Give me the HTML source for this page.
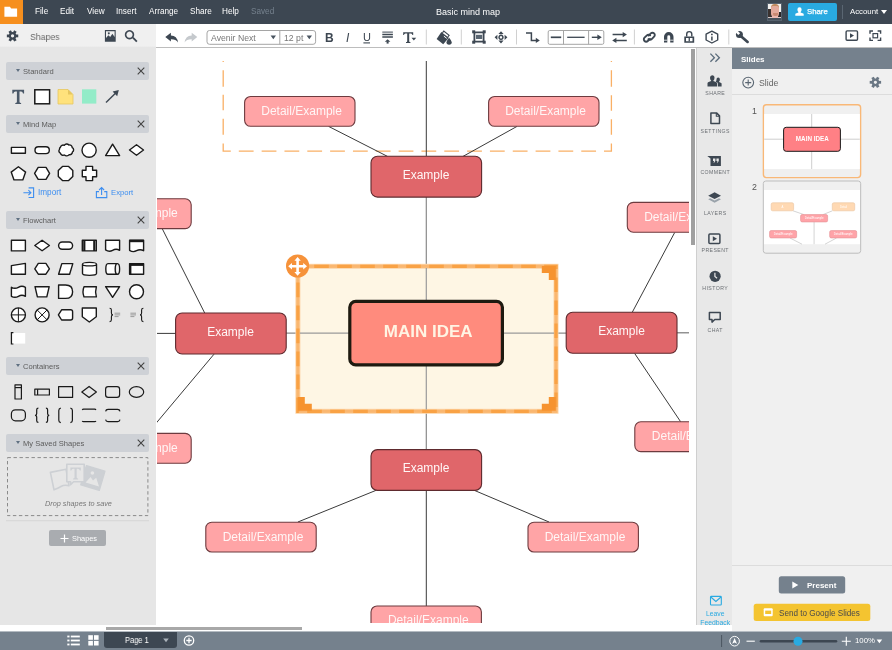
<!DOCTYPE html>
<html><head><meta charset="utf-8"><title>Basic mind map</title>
<style>
*{box-sizing:border-box;margin:0;padding:0}
html,body{width:892px;height:650px;overflow:hidden;background:#fff;font-family:"Liberation Sans",sans-serif;color:#3d4752}
.abs{position:absolute}
#top{left:0;top:0;width:892px;height:24px;background:#3d4752}
#logo{left:0;top:0;width:23px;height:24px;background:#f68f1e}
.menu{position:absolute;top:8.2px;line-height:1;font-size:8.2px;color:#fff;white-space:nowrap}
#tb{left:156px;top:24px;width:736px;height:24px;background:#fff;border-bottom:1px solid #bdbdbd}
#shbar{left:0;top:24px;width:156px;height:24px;background:linear-gradient(#f0f0f0 0,#f0f0f0 22px,#e6e6e6 23.5px)}
#left{left:0;top:48px;width:156px;height:577px;background:#e6e6e6}
#canvas{left:156px;top:48px;width:533px;height:583px;background:#fff;overflow:hidden}
#vscroll{left:689px;top:48px;width:8px;height:583px;background:#fff}
#dock{left:696px;top:48px;width:36px;height:577px;background:#e8e8e8;border-left:1px solid #cfcfcf}
#slides{left:732px;top:48px;width:160px;height:583px;background:#f0f0f0}
#bottom{left:0;top:631px;width:892px;height:19px;background:#75818d;border-top:1px solid #b4bbc2}
.ph{position:absolute;left:6px;width:143px;height:18px;background:#ced1d6;border-radius:2px;font-size:8px;line-height:19px;color:#5c5c5c;padding-left:17px}
.ph span{display:inline-block;transform:scaleX(.945);transform-origin:0 50%}
.ph:before{content:"";position:absolute;left:9.8px;top:7.4px;border-left:2.5px solid transparent;border-right:2.5px solid transparent;border-top:3.8px solid #5f7082}
.ph svg{position:absolute;right:4px;top:5px}
.dk{position:absolute;left:697px;width:35px;text-align:center;font-size:5.2px;letter-spacing:.42px;color:#6b6f74;padding-left:1.5px}
.t{position:absolute;white-space:nowrap;line-height:1}
.t,.menu,.ph,.dk,svg{will-change:transform}
</style></head><body>
<div id="top" class="abs"></div>
<div id="logo" class="abs"></div>
<div id="shbar" class="abs"></div>
<div id="tb" class="abs"></div>
<div id="left" class="abs"></div>
<div id="canvas" class="abs"></div>
<div id="vscroll" class="abs"></div>
<div id="dock" class="abs"></div>
<div id="slides" class="abs"></div>
<div id="bottom" class="abs"></div>
<svg class="abs" style="left:0;top:0" width="24" height="24" viewBox="0 0 24 24"><path d="M4.4 6.8h5.5l1.3 1.8h5.9v8.2H4.4z" fill="#fff"/></svg>
<div class="menu" style="left:35.1px">File</div>
<div class="menu" style="left:59.9px">Edit</div>
<div class="menu" style="left:86.5px">View</div>
<div class="menu" style="left:115.7px">Insert</div>
<div class="menu" style="left:148.7px">Arrange</div>
<div class="menu" style="left:189.5px">Share</div>
<div class="menu" style="left:221.8px">Help</div>
<div class="menu" style="left:251.3px;color:#75818d">Saved</div>
<div class="menu" style="left:436.4px;top:7.6px;font-size:9px">Basic mind map</div>
<!-- avatar -->
<div class="abs" style="left:767px;top:3.2px;width:14.8px;height:17.7px;border:1px solid #56626e;background:#46515c;overflow:hidden">
<div class="abs" style="left:0;top:0;width:13px;height:14.2px;background:#f2f0ee"></div>
<div class="abs" style="left:0;top:5px;width:3.5px;height:8px;background:#3a3230"></div>
<div class="abs" style="left:10px;top:8px;width:3px;height:5px;background:#2a2628"></div>
<div class="abs" style="left:0;top:12.5px;width:13px;height:1.7px;background:#d8c8c8"></div>
<div class="abs" style="left:3.4px;top:.200px;width:7.6px;height:4px;border-radius:3.5px 3.5px 0 0;background:#c08a5e"></div>
<div class="abs" style="left:3.4px;top:1.6px;width:7.4px;height:11px;border-radius:2px 2px 3.5px 3.5px;background:#e3aa9c"></div>
<div class="abs" style="left:4.8px;top:9.3px;width:4.8px;height:2.5px;border-radius:0 0 2px 2px;background:#c98a72"></div>
<div class="abs" style="left:3.5px;top:12px;width:6.5px;height:2.2px;background:#eab8b0"></div>
</div>
<div class="abs" style="left:788px;top:3px;width:49px;height:17.5px;background:#29aae1;border-radius:2px"></div>
<svg class="abs" style="left:795px;top:7px" width="9" height="9" viewBox="0 0 9 9"><path d="M4.5.3q2.1 0 2.1 2.3 0 1.7-1 2.5v.5l2.6 1q.5.2.5.8v1.3H.3V7.4q0-.6.5-.8l2.6-1v-.5q-1-.8-1-2.5Q2.4.3 4.5.3z" fill="#fff"/></svg>
<div class="menu" style="left:806.6px;top:8.3px;font-size:7.8px;-webkit-text-stroke:.25px #fff">Share</div>
<div class="abs" style="left:842.3px;top:4.5px;width:1px;height:14px;background:#5a6672"></div>
<div class="menu" style="left:850px;font-size:7.8px;top:8.4px">Account</div>
<div class="abs" style="left:881px;top:9.5px;border-left:3.5px solid transparent;border-right:3.5px solid transparent;border-top:4.5px solid #fff"></div>
<svg class="abs" style="left:0;top:24px" width="892" height="24" viewBox="0 24 892 24">
<g fill="#3d4752">
<!-- gear -->
<g id="gear" transform="translate(12.55 35.9)"><path d="M0-3.9a3.9 3.9 0 1 0 .01 0zM0-1.6a1.6 1.6 0 1 1-.01 0z" fill-rule="evenodd"/><g id="gt"><rect x="-1.4" y="-5.7" width="2.8" height="2.6" transform="rotate(30)"/><rect x="-1.4" y="-5.7" width="2.8" height="2.6" transform="rotate(90)"/><rect x="-1.4" y="-5.7" width="2.8" height="2.6" transform="rotate(150)"/><rect x="-1.4" y="-5.7" width="2.8" height="2.6" transform="rotate(210)"/><rect x="-1.4" y="-5.7" width="2.8" height="2.6" transform="rotate(270)"/><rect x="-1.4" y="-5.7" width="2.8" height="2.6" transform="rotate(330)"/></g></g>
<!-- image icon -->
<path d="M104.9 30.1h10.8v11.6h-10.8zM106 31.2v6.9l2.4-2.8 1.8 1.8 2.2-3.4 2.2 3.2v-5.7zM108.8 32.2a1 1 0 1 0 .01 0z" fill-rule="evenodd"/>
<!-- search -->
<path d="M129.5 30a4.7 4.7 0 1 0 .01 0zM129.5 31.6a3.1 3.1 0 1 1-.01 0z" fill-rule="evenodd"/><path d="M132.3 38.3l1.3-1.3 3.9 3.9-1.3 1.3z"/>
<!-- undo -->
<path d="M165.3 37l5.6-4.2v2.6q6.2.2 7.1 7-2-3.3-7.1-3.2v2.4z"/>
<path d="M197.3 37l-5.6-4.2v2.6q-6.2.2-7.1 7 2-3.3 7.1-3.2v2.4z" fill="#c5c9cd"/>
</g>
<!-- font boxes -->
<rect x="207" y="30.5" width="108.6" height="13.8" rx="2.5" fill="#fff" stroke="#a5a5a5" stroke-width="1"/>
<path d="M279.8 30.5v13.8" stroke="#a5a5a5" stroke-width="1"/>
<path d="M270.6 35.6h5.4l-2.7 3.6zM306.6 35.6h5.4l-2.7 3.6z" fill="#4a5560"/>
<g stroke="#d0d0d0" stroke-width="1"><path d="M426.3 29.5v15M461.3 29.5v15M516.5 29.5v15M634.4 29.5v15M728.8 29.5v15"/></g>
<!-- U underline, align, T caret -->
<g fill="none" stroke="#3d4752">
<path d="M363.4 42.9h6.6" stroke-width="1.1"/>
<path d="M382.3 32.1h10.6" stroke-width="1"/><path d="M382.3 34.5h10.6M382.3 36.9h10.6" stroke-width="1.5"/><path d="M387.6 43.6v-2.4" stroke-width="2"/>
</g>
<path d="M384.8 41.8l2.8-2.5 2.8 2.5z" fill="#3d4752"/>
<path d="M403.2 32.2h10v2.8h-.8q-.1-1.5-1.4-1.5h-1.8v7.7q0 .9 1.2.9v.8h-4.4v-.8q1.2 0 1.2-.9v-7.7h-1.8q-1.3 0-1.4 1.5h-.8z" fill="#3d4752"/>
<path d="M411.5 37.8h4.7l-2.35 2.6z" fill="#3d4752"/>
<!-- fill bucket -->
<g fill="#3d4752">
<g transform="translate(443 37.6) rotate(38)"><path d="M-4.7-3.4h9.4l-.5 8.4h-8.4z"/><path d="M-3.4-3.4v-2.2h6.8v2.2" fill="none" stroke="#3d4752" stroke-width="1.1"/><path d="M-.200-1.7h3.6" stroke="#fff" stroke-width=".9"/></g>
<path d="M449.1 37.8q2.7 3.2 2.7 4.4a2.7 2.5 0 0 1-5.4 0q0-1.2 2.7-4.4z"/>
</g>
<!-- frame icon -->
<g fill="#3d4752"><path d="M473.5 31.5h11v11h-11zM475.3 33.3v7.4h7.4v-7.4z" fill-rule="evenodd"/>
<rect x="472.2" y="30.3" width="3" height="3"/><rect x="482.7" y="30.3" width="3" height="3"/><rect x="472.2" y="40.7" width="3" height="3"/><rect x="482.7" y="40.7" width="3" height="3"/>
<rect x="476" y="34.8" width="6.2" height="4.2" fill="#5a6672"/>
<!-- move icon -->
<path d="M501 31.2l2.6 2.8h-5.2zM501 43.4l2.6-2.8h-5.2zM494.6 37.3l2.8-2.6v5.2zM507.4 37.3l-2.8-2.6v5.2z"/>
<path d="M501 34.6a2.7 2.7 0 1 0 .01 0zM501 36.1a1.2 1.2 0 1 1-.01 0z" fill-rule="evenodd"/>
</g>
<!-- elbow -->
<path d="M526 33h5.4v7.4h5" fill="none" stroke="#3d4752" stroke-width="1.5"/><path d="M539.8 40.4l-4-2.6v5.2z" fill="#3d4752"/>
<!-- line style box -->
<rect x="548.2" y="30.5" width="55.6" height="13.8" rx="1.5" fill="#fff" stroke="#a5a5a5" stroke-width="1"/>
<path d="M563.5 30.5v13.8M588.6 30.5v13.8" stroke="#a5a5a5" stroke-width="1"/>
<path d="M550.8 37.3h10.4" stroke="#3d4752" stroke-width="1.7"/>
<path d="M567.2 37.3h17.4" stroke="#3d4752" stroke-width="1.3"/>
<path d="M591.8 37.3h6.5" stroke="#3d4752" stroke-width="1.4"/><path d="M601.8 37.3l-4.4-2.7v5.4z" fill="#3d4752"/>
<!-- swap -->
<g stroke="#3d4752" stroke-width="1.5" fill="none"><path d="M612.6 34.6h11.6M615.2 40.4h11.6"/></g>
<path d="M626.9 34.6l-4.2-2.7v5.4zM612.2 40.4l4.2-2.7v5.4z" fill="#3d4752"/>
<!-- link -->
<g fill="none" stroke="#3d4752" stroke-width="1.9" stroke-linecap="round">
<path d="M648.6 35.6l2.2-2.2a2.3 2.3 0 0 1 3.3 3.3l-2.4 2.4a2.3 2.3 0 0 1-3.3 0"/>
<path d="M650 38.8l-2.2 2.2a2.3 2.3 0 0 1-3.3-3.3l2.4-2.4a2.3 2.3 0 0 1 3.3 0"/>
</g>
<!-- magnet -->
<path d="M664 42.5v-5.7a4.75 4.75 0 0 1 9.5 0v5.7h-3.3v-5.7a1.45 1.45 0 0 0-2.9 0v5.7z" fill="#3d4752"/><path d="M664 40.2h3.3M670.2 40.2h3.3" stroke="#fff" stroke-width=".8"/>
<!-- lock -->
<path d="M684.3 36.4h9.9v6.4h-9.9zM686 38v3.2h6.5V38z" fill="#3d4752" fill-rule="evenodd"/><path d="M686.7 36.4v-2.2a2.55 2.55 0 0 1 5.1 0v2.2" fill="none" stroke="#3d4752" stroke-width="1.4"/><path d="M689.25 38v3.2" stroke="#3d4752" stroke-width="1.3"/>
<!-- info hex -->
<path d="M711.9 31.2l5.8 3v5.8l-5.8 3-5.8-3v-5.8z" fill="none" stroke="#3d4752" stroke-width="1.4" stroke-linejoin="round"/><path d="M711.9 36.4v4" stroke="#3d4752" stroke-width="1.5"/><circle cx="711.9" cy="34.4" r=".9" fill="#3d4752"/>
<!-- wrench -->
<path d="M741 36.2L747.6 41.9" stroke="#3d4752" stroke-width="2.7" stroke-linecap="round"/>
<circle cx="739.4" cy="34.4" r="3.5" fill="#3d4752"/>
<rect x="-1.3" y="-5" width="2.6" height="5.4" fill="#fff" transform="translate(738.9 33.9) rotate(-45)"/>
<!-- present box -->
<rect x="846.1" y="30.9" width="11.4" height="9.4" rx="1" fill="none" stroke="#3d4752" stroke-width="1.4"/><path d="M850 33.2v4.8l4-2.4z" fill="#3d4752"/>
<!-- fullscreen -->
<g fill="none" stroke="#3d4752" stroke-width="1.4"><path d="M870 33.8v-2.8h3M877.6 31h3v2.8M880.6 37.6v2.8h-3M873 40.4h-3v-2.8"/><rect x="873" y="33.6" width="4.6" height="4.2" stroke-width="1.2"/></g>
</svg>
<div class="t" style="left:30.3px;top:31.7px;font-size:9.8px;color:#6a6a6a;transform:scaleX(.89);transform-origin:0 0">Shapes</div>
<div class="t" style="left:210.6px;top:33.7px;font-size:8.7px;color:#777">Avenir Next</div>
<div class="t" style="left:283.5px;top:33.7px;font-size:8.7px;color:#777">12 pt</div>
<div class="t" style="left:325.4px;top:32.2px;font-size:12px;font-weight:bold;color:#3d4752">B</div>
<div class="t" style="left:346.4px;top:32.2px;font-size:12px;font-style:italic;color:#3d4752">I</div>
<div class="t" style="left:362.6px;top:32.4px;font-size:11px;color:#3d4752">U</div>
<div class="ph" style="top:62px"><span>Standard</span><svg width="8" height="8" viewBox="0 0 8 8"><path d="M.7.7l6.6 6.6M7.3.7L.7 7.3" stroke="#444" stroke-width="1.1"/></svg></div>
<div class="ph" style="top:115.2px"><span>Mind Map</span><svg width="8" height="8" viewBox="0 0 8 8"><path d="M.7.7l6.6 6.6M7.3.7L.7 7.3" stroke="#444" stroke-width="1.1"/></svg></div>
<div class="ph" style="top:211px"><span>Flowchart</span><svg width="8" height="8" viewBox="0 0 8 8"><path d="M.7.7l6.6 6.6M7.3.7L.7 7.3" stroke="#444" stroke-width="1.1"/></svg></div>
<div class="ph" style="top:357.2px"><span>Containers</span><svg width="8" height="8" viewBox="0 0 8 8"><path d="M.7.7l6.6 6.6M7.3.7L.7 7.3" stroke="#444" stroke-width="1.1"/></svg></div>
<div class="ph" style="top:434.2px"><span>My Saved Shapes</span><svg width="8" height="8" viewBox="0 0 8 8"><path d="M.7.7l6.6 6.6M7.3.7L.7 7.3" stroke="#444" stroke-width="1.1"/></svg></div>
<svg class="abs" style="left:0;top:48px" width="156" height="580" viewBox="0 48 156 580">
<!-- standard -->
<path d="M12.3 89.8h11.8v3.6h-1.1q-.3-2-2-2h-1.5v10.3q0 1.2 1.6 1.2v1.1h-5.8v-1.1q1.6 0 1.6-1.2V91.4h-1.5q-1.7 0-2 2h-1.1z" fill="#4a5868"/>
<rect x="34.8" y="89.8" width="14.8" height="14" fill="#fff" stroke="#1a1a1a" stroke-width="1.5"/>
<path d="M58 89.5h10l5 5v9.5h-15z" fill="#ffe27c" stroke="#e6c65f" stroke-width=".8"/><path d="M68 89.5v5h5z" fill="#e6c65f"/>
<rect x="82" y="89.3" width="14.3" height="14.3" fill="#93ecc8"/>
<path d="M106 102.5L116.5 92.2" stroke="#3d4752" stroke-width="1.4" fill="none"/><path d="M118.8 90l-1.6 6.2-4.6-4.6z" fill="#3d4752"/>
<g fill="#fff" stroke="#1a1a1a" stroke-width="1.4" stroke-linejoin="round">
<!-- mind map r1 -->
<rect x="11.4" y="147.4" width="14" height="5.8"/>
<rect x="35" y="146.8" width="14.3" height="6.8" rx="3.4"/>
<path d="M60.5 147.2a2.6 2.6 0 0 1 3.8-1.9a3 3 0 0 1 4.6-.3a2.6 2.6 0 0 1 3.3 2.6a2.5 2.5 0 0 1 .2 4.4a2.6 2.6 0 0 1-3.2 2.6a3.2 3.2 0 0 1-4.8.4a2.8 2.8 0 0 1-4-1.8a2.4 2.4 0 0 1-.9-3.8a2.3 2.3 0 0 1 1-2.2z"/>
<circle cx="89.1" cy="150.2" r="7.1"/>
<path d="M112.6 144.2l7 11.4h-14z"/>
<path d="M136.5 144.8l7 5.2-7 5.2-7-5.2z"/>
<!-- mind map r2 -->
<path d="M18.4 166.8l7.2 5.3-2.8 7.8h-8.8l-2.8-7.8z"/>
<path d="M38.2 167.4h7.8l3.6 6-3.6 6h-7.8l-3.6-6z"/>
<path d="M62.5 166.4h6.1l4.2 4.2v5.8l-4.2 4.2h-6.1l-4.2-4.2v-5.8z"/>
<path d="M86 166.4h6.6v3.8h4v6.6h-4v3.8H86v-3.8h-3.7v-6.6H86z"/>
<!-- flow r1 -->
<rect x="11.4" y="240.3" width="14" height="10.6"/>
<path d="M42.1 240.3l7.3 5.2-7.3 5.2-7.3-5.2z"/>
<rect x="58.6" y="242" width="14" height="7.2" rx="3.6"/>
<rect x="82.3" y="240.3" width="14" height="10.6"/><path d="M84.3 240.3v10.6M94.3 240.3v10.6" stroke-width="2.2"/>
<path d="M105.6 240.3h14v10q-3.5-2-7 0t-7-.4z"/>
<path d="M129.6 240.3h14v10.4q-3.5-2-7 0t-7-.4z"/><path d="M129.6 241h14" stroke-width="2.4"/>
<!-- flow r2 -->
<path d="M11.4 265.6l14-2.2v10.8h-14z"/>
<path d="M38.3 263.4h7.6l3.5 5.4-3.5 5.4h-7.6l-3.5-5.4z"/>
<path d="M61.8 263.6h11l-3.2 10.6h-11z"/>
<path d="M82.5 264.2v9.4q0 1.8 7 1.8t7-1.8v-9.4q0-1.8-7-1.8t-7 1.8zM82.5 264.2q0 1.7 7 1.7t7-1.7"/>
<path d="M108 263.6h9.4q2.2 0 2.2 5.3t-2.2 5.3h-9.4q-2.2 0-2.2-5.3t2.2-5.3zM117.4 263.6q-2.2 0-2.2 5.3t2.2 5.3"/>
<rect x="129.6" y="263.6" width="14" height="10.6"/><path d="M129.6 264.6h14" stroke-width="2.6"/><path d="M130.4 263.6v10.6" stroke-width="2"/>
<!-- flow r3 -->
<path d="M11.4 287.3q3.5 2 7 0t7 0v9q-3.5-2-7 0t-7 0z"/>
<path d="M35 286.7h14.2l-2.4 10.2h-9.4z"/>
<path d="M58.6 285h7q7 0 7 6.7t-7 6.7h-7z"/>
<path d="M84 286.7h12.4q-1.6 5 0 10.2H84q-2-5.2 0-10.2z"/>
<path d="M105.6 286.7h14l-7 10.6z"/>
<circle cx="136.5" cy="291.7" r="7"/>
<!-- flow r4 -->
<circle cx="18.4" cy="314.9" r="7"/><path d="M18.4 307.9v14M11.4 314.9h14" stroke-width="1"/>
<circle cx="42.1" cy="314.9" r="7"/><path d="M37.2 310l9.8 9.8M47 310l-9.8 9.8" stroke-width="1"/>
<path d="M61.6 309.8h9q2 0 2 2v6.2q0 2-2 2h-9l-3.2-5.1z"/>
<path d="M82.3 308h14v8.8l-7 5.2-7-5.2z"/>
</g>
<g fill="none" stroke="#1a1a1a" stroke-width="1.1">
<path d="M109.6 308.2q1.8 0 1.8 1.8v3q0 1.9 1.6 1.9-1.6 0-1.6 1.9v3q0 1.8-1.8 1.8"/>
<path d="M143.4 308.2q-1.8 0-1.8 1.8v3q0 1.9-1.6 1.9 1.6 0 1.6 1.9v3q0 1.8 1.8 1.8"/>
<path d="M114.6 313.2h5.6M114.6 314.9h5.6M114.6 316.6h4" stroke="#888" stroke-width=".8"/>
<path d="M130.4 313.2h5.6M130.4 314.9h5.6M130.4 316.6h4" stroke="#888" stroke-width=".8"/>
</g>
<rect x="12.6" y="333" width="12.6" height="10.6" fill="#fff"/>
<path d="M13.4 332.6h-2v11.4h2" fill="none" stroke="#1a1a1a" stroke-width="1.2"/>
<!-- containers r1 -->
<g fill="none" stroke="#1a1a1a" stroke-width="1.2" stroke-linejoin="round">
<rect x="15" y="384.8" width="6.4" height="14.2"/><path d="M15 387.6h6.4"/>
<rect x="34.8" y="389.2" width="14.6" height="5.8"/><path d="M37.6 389.2v5.8"/>
<rect x="58.6" y="386.6" width="14" height="10.8"/>
<path d="M89.1 386.4l7.3 5.6-7.3 5.6-7.3-5.6z"/>
<rect x="105.6" y="386.6" width="14" height="10.8" rx="2.6"/>
<ellipse cx="136.5" cy="392" rx="7.2" ry="5.3"/>
<!-- containers r2 -->
<rect x="11.4" y="409.8" width="14" height="11" rx="4"/>
<path d="M38.4 408.2q-1.7 0-1.7 1.6v3.7q0 1.5-1.2 1.8 1.2.3 1.2 1.8v3.7q0 1.6 1.7 1.6M45.9 408.2q1.7 0 1.7 1.6v3.7q0 1.5 1.2 1.8-1.2.3-1.2 1.8v3.7q0 1.6-1.7 1.6"/>
<path d="M60.8 408.2q-2 .4-2 2.4v9.6q0 2 2 2.4M70.4 408.2q2 .4 2 2.4v9.6q0 2-2 2.4"/>
<path d="M82.2 409.8q.4-.6 1.4-.6h11q1 0 1.4.6M82.2 421q.4.6 1.4.6h11q1 0 1.4-.6"/>
<path d="M105.6 411.4q.4-2 2.4-2h9.6q2 0 2.4 2M105.6 419.6q.4 2 2.4 2h9.6q2 0 2.4-2"/>
</g>
<!-- import export icons -->
<g fill="none" stroke="#3d8ef0" stroke-width="1.1">
<path d="M28.6 187.9h5v9.6h-5"/><path d="M23.4 192.7h7.4M28.4 190.2l2.5 2.5-2.5 2.5"/>
<path d="M99 191.6h-2.6v6h10.4v-6h-2.6"/><path d="M101.6 195v-7.4M99.1 190l2.5-2.5 2.5 2.5"/>
</g>
<!-- saved shapes box -->
<rect x="7.5" y="457.6" width="140.4" height="58" fill="none" stroke="#8a8a8a" stroke-width="1" stroke-dasharray="3.4 2.6"/>
<g fill="#e6e6e6" stroke="#cdd0d4" stroke-width="1.6" stroke-linejoin="round">
<path d="M50.4 472.4l15.6-3.2 3 16.4q-5-1-7.6.6t-7.4 3.6z"/>
<path d="M86.5 465.8l18.3 5.4-5.6 19-18.3-5.4z" fill="#cdd0d4"/>
<path d="M66.8 464.2h17.4v17.6h-10.6l-3 3v-3h-3.8z"/>
</g>
<path d="M70.4 467.4h10.4v3.2h-1q-.2-1.8-1.8-1.8h-1.3v8.6q0 1 1.4 1v1h-5v-1q1.4 0 1.4-1v-8.6h-1.3q-1.6 0-1.8 1.8h-1z" fill="#cdd0d4"/>
<circle cx="92.4" cy="473" r="1.8" fill="#e6e6e6"/><path d="M85.6 482.4l5-5.4 2.4 3.6 3.2-2.8 2.8 8.6z" fill="#e6e6e6"/>
<path d="M6 520.7h143" stroke="#d6d6d6" stroke-width="1"/>
</svg>
<div class="t" style="left:37.7px;top:189.2px;font-size:8.2px;color:#3d8ef0">Import</div>
<div class="t" style="left:110.7px;top:189.2px;font-size:7.7px;color:#3d8ef0">Export</div>
<div class="t" style="left:44.5px;top:500.3px;font-size:7.3px;color:#777;font-style:italic">Drop shapes to save</div>
<div class="abs" style="left:49px;top:530px;width:56.5px;height:16.2px;background:#a9acb0;border-radius:2px"></div>
<svg class="abs" style="left:59.5px;top:534px" width="9" height="9" viewBox="0 0 9 9"><path d="M4.5.5v8M.5 4.5h8" stroke="#fff" stroke-width="1.2"/></svg>
<div class="t" style="left:71.7px;top:534.6px;font-size:7.4px;color:#fff">Shapes</div>
<div class="abs" style="left:157px;top:61px;width:532px;height:561.5px;overflow:hidden">
<svg width="532" height="561.5" viewBox="157 61 532 561.5" style="display:block" font-family="Liberation Sans, sans-serif">
<!-- dashed region -->
<g stroke="#f9b066" stroke-width="1.3" fill="none">
<path d="M223.2 61v1M223.2 70.3v16.5M223.2 94.8v15.5M223.2 118.8v16M223.2 143.6v7.6h7.6"/>
<path d="M611.4 61v1M611.4 70.3v16.5M611.4 95.2v15.6M611.4 119.2v15.6M611.4 143.6v7.6h-7.4"/>
<path d="M238.8 151.2H596.2" stroke-dasharray="14.8 8.03"/>
</g>
<!-- connectors -->
<g stroke="#3a3a3a" stroke-width="1" fill="none">
<path d="M426.3 61V156"/><path d="M426.3 490V606"/>
<path d="M328.6 126.4L387.5 156.4"/><path d="M517 126.4L463 156.4"/>
<path d="M162.2 228.6L204.7 313"/><path d="M214 354.2L150 430.5"/>
<path d="M674.7 232.5L632.2 312.4"/><path d="M634.7 353.5L680.6 421.7"/>
<path d="M376.9 490L297.9 522"/><path d="M473.5 490L549 522"/>
<path d="M157 333.4H176"/>
</g>
<g stroke="#8a8a8a" stroke-width="1.2" fill="none">
<path d="M426.3 197V449.5"/><path d="M286 333.2H566.5"/><path d="M677 332.8H689" stroke="#777"/>
</g>
<!-- selection -->
<rect x="297.9" y="266.3" width="258.1" height="145" fill="#fef6e4" stroke="#fcd5a8" stroke-width="5"/><rect x="297.9" y="266.3" width="258.1" height="145" fill="none" stroke="#fab770" stroke-width="3.2"/>
<rect x="297.9" y="266.3" width="258.1" height="145" fill="none" stroke="#f9a245" stroke-width="3.2" stroke-dasharray="14.6 8.4" stroke-dashoffset="-16.3"/>
<g stroke="#9a9a9a" stroke-width="1.2" fill="none">
<path d="M426.3 268V300"/><path d="M426.3 366V409.5"/><path d="M299.8 333.2H349"/><path d="M503 333.2H554"/>
</g>
<g fill="#f6932f">
<path d="M541.8 266h14v14.1h-7v-7.1h-7z"/>
<path d="M297.8 397.1h7v6.7h7v7h-14z"/>
<path d="M555.8 397.1h-7v6.7h-7v7h14z"/>
</g>
<!-- boxes -->
<g fill="#ffa4a6" stroke="#6d3b3f" stroke-width="1.1">
<rect x="244.6" y="96.5" width="110.4" height="29.8" rx="6"/>
<rect x="488.6" y="96.5" width="110.4" height="29.8" rx="6"/>
<rect x="120" y="198.8" width="71.2" height="29.8" rx="6"/>
<rect x="627.3" y="202.4" width="110.4" height="29.8" rx="6"/>
<rect x="120" y="433.4" width="71.2" height="29.8" rx="6"/>
<rect x="634.8" y="421.8" width="110.4" height="29.8" rx="6"/>
<rect x="205.8" y="522.2" width="110.4" height="29.8" rx="6"/>
<rect x="528" y="522.2" width="110.4" height="29.8" rx="6"/>
<rect x="371" y="606" width="110.4" height="29.8" rx="6"/>
</g>
<g fill="#e0666a" stroke="#5e2a2e" stroke-width="1.1">
<rect x="371" y="156.3" width="110.6" height="40.8" rx="6.5"/>
<rect x="175.6" y="313" width="110.6" height="41" rx="6.5"/>
<rect x="566.2" y="312.3" width="110.8" height="41" rx="6.5"/>
<rect x="371" y="449.6" width="110.6" height="40.8" rx="6.5"/>
</g>
<rect x="349.8" y="301.3" width="152.6" height="63.6" rx="6" fill="#ff8b7d" stroke="#1e1a10" stroke-width="3.2"/>
<!-- labels -->
<g font-size="12" fill="#fff6f6" text-anchor="middle">
<text x="301.6" y="115">Detail/Example</text>
<text x="545.5" y="115">Detail/Example</text>
<text x="137.4" y="217.4">Detail/Example</text>
<text x="684.5" y="220.6">Detail/Example</text>
<text x="137.4" y="451.8">Detail/Example</text>
<text x="692.2" y="440.2">Detail/Example</text>
<text x="263" y="540.5">Detail/Example</text>
<text x="585" y="540.5">Detail/Example</text>
<text x="428.3" y="624.3">Detail/Example</text>
<text x="426" y="178.8">Example</text>
<text x="230.5" y="335.8">Example</text>
<text x="621.5" y="335">Example</text>
<text x="426" y="472.2">Example</text>
</g>
<text x="428.2" y="337.2" font-size="17" font-weight="bold" fill="#fff4e3" text-anchor="middle">MAIN IDEA</text>
<!-- move handle -->
<circle cx="297.6" cy="266" r="11.6" fill="#f6923a"/>
<path transform="translate(297.6 266.3)" fill="#fff" d="M0-9.4L3.2-5.6H1.3V-1.3H5.6V-3.2L9.4 0 5.6 3.2V1.3H1.3V5.6H3.2L0 9.4-3.2 5.6H-1.3V1.3H-5.6V3.2L-9.4 0-5.6-3.2V-1.3H-1.3V-5.6H-3.2z"/>
</svg></div>
<div class="abs" style="left:691.3px;top:48.6px;width:3.8px;height:196.4px;background:#a0a0a0"></div>
<div class="abs" style="left:732px;top:48.4px;width:160px;height:20.6px;background:#75818d"></div>
<div class="t" style="left:741.4px;top:56px;font-size:8px;font-weight:bold;color:#fff">Slides</div>
<div class="abs" style="left:732px;top:94px;width:160px;height:1px;background:#dcdcdc"></div>
<div class="abs" style="left:732px;top:564.5px;width:160px;height:1px;background:#dcdcdc"></div>
<div class="t" style="left:758.7px;top:78.5px;font-size:8.7px;color:#666">Slide</div>
<div class="t" style="left:752.2px;top:107.2px;font-size:8.8px;color:#555">1</div>
<div class="t" style="left:752.2px;top:183px;font-size:8.8px;color:#555">2</div>
<svg class="abs" style="left:697px;top:48px" width="195" height="580" viewBox="697 48 195 580" font-family="Liberation Sans, sans-serif">
<path d="M710.4 53.6l4 4.1-4 4.1M715.4 53.6l4 4.1-4 4.1" fill="none" stroke="#5a6b7b" stroke-width="1.3"/>
<g fill="#3d4752">
<!-- share -->
<path d="M712.2 75.2q2.3 0 2.3 2.6 0 1.9-1.1 2.7v.6l3 1.2q.6.3.6 1v3.1h-9.5v-3.1q0-.7.6-1l3-1.2v-.6q-1.1-.8-1.1-2.7 0-2.6 2.2-2.6z"/>
<path d="M718.2 77.6q1.7 0 1.7 2 0 1.4-.8 2v.5l2 .9q.5.2.5.8v2.6h-3.8v-2.7q0-1-.9-1.4l-1.2-.6q.8-.8.8-2.1 0-2 1.7-2z"/>
<!-- comment -->
<path d="M707.3 155.9h13.6v10h-10.4v-7.4zM713 158.6v2.4h1.2l-.8 1.6h1.1l.9-1.8v-2.2zM716.4 158.6v2.4h1.2l-.8 1.6h1.1l.9-1.8v-2.2z" fill-rule="evenodd"/>
<!-- layers -->
<path d="M714.6 192.3l6.4 3.4-6.4 3.4-6.4-3.4z"/><path d="M710.2 198.2l4.4 2.3 4.4-2.3 2 1.1-6.4 3.4-6.4-3.4z" fill="#9aa3ab"/>
<!-- history -->
<circle cx="715.1" cy="276.3" r="5.6"/>
</g>
<path d="M714.9 272.8v3.7l2.2 1.8" fill="none" stroke="#e8e8e8" stroke-width="1.2"/>
<g fill="none" stroke="#3d4752" stroke-width="1.5" stroke-linejoin="round">
<path d="M710.9 112.9h5.6l3 3v7.5h-8.6z"/><path d="M716.3 113v3.2h3.2" stroke-width="1.1"/>
<rect x="708.9" y="234" width="11" height="9.4" rx="1"/>
<path d="M709.4 312.5h10.8v7h-5.4l-2.8 2.6v-2.6h-2.6z"/>
</g>
<path d="M712.8 236.2v5l4.2-2.5z" fill="#3d4752"/>
<!-- leave feedback -->
<g fill="none" stroke="#29aae1" stroke-width="1.1"><rect x="710.5" y="596.4" width="10.8" height="8.6" rx=".8"/><path d="M710.8 597l5.1 4.4 5.1-4.4"/></g>
<!-- add slide -->
<circle cx="748.2" cy="82.6" r="5.4" fill="none" stroke="#5a6672" stroke-width="1.1"/><path d="M748.2 79.6v6M745.2 82.6h6" stroke="#5a6672" stroke-width="1.1"/>
<!-- gear -->
<g transform="translate(875.4 82.3)" fill="#6a7784"><path d="M0-3.9a3.9 3.9 0 1 0 .01 0zM0-1.6a1.6 1.6 0 1 1-.01 0z" fill-rule="evenodd"/><rect x="-1.4" y="-5.7" width="2.8" height="2.6" transform="rotate(30)"/><rect x="-1.4" y="-5.7" width="2.8" height="2.6" transform="rotate(90)"/><rect x="-1.4" y="-5.7" width="2.8" height="2.6" transform="rotate(150)"/><rect x="-1.4" y="-5.7" width="2.8" height="2.6" transform="rotate(210)"/><rect x="-1.4" y="-5.7" width="2.8" height="2.6" transform="rotate(270)"/><rect x="-1.4" y="-5.7" width="2.8" height="2.6" transform="rotate(330)"/></g>
<!-- slide 1 -->
<rect x="763.4" y="104.8" width="97.2" height="72.8" rx="3" fill="#f0f0f0" stroke="#f9b877" stroke-width="1.4"/>
<rect x="764.2" y="114" width="95.6" height="55" fill="#fff"/>
<path d="M811.7 114v55M764.2 139.2h95.6" stroke="#c8c8c8" stroke-width=".9"/>
<rect x="783.6" y="127.3" width="56.8" height="24" rx="2.6" fill="#ff8085" stroke="#1a1a1a" stroke-width="1"/>
<text x="812.3" y="141.4" font-size="6.3" font-weight="bold" fill="#fff" text-anchor="middle">MAIN IDEA</text>
<!-- slide 2 -->
<rect x="763.3" y="181" width="97.4" height="72.2" rx="2.5" fill="#f0f0f0" stroke="#bdbdbd" stroke-width="1"/>
<rect x="764" y="190" width="96" height="54.2" fill="#fff"/>
<g stroke="#cfcfcf" stroke-width=".9" fill="none"><path d="M814.1 222v22.2M793 210.8l11 3.8M832.4 210.8l-9.4 3.8M790 238l12 6.2M836.5 238l-11.5 6.2"/></g>
<g fill="#ffd9b3" stroke="#ecc9a6" stroke-width=".7"><rect x="771.2" y="202.8" width="22.4" height="8" rx="1.5"/><rect x="832.3" y="202.8" width="22.4" height="8" rx="1.5"/></g>
<g fill="#ffa3a8" stroke="#e8979b" stroke-width=".7"><rect x="800.6" y="214.6" width="27" height="7.3" rx="1.5"/><rect x="769.6" y="230.6" width="27" height="7.3" rx="1.5"/><rect x="829.7" y="230.6" width="27" height="7.3" rx="1.5"/></g>
<g font-size="2.8" fill="#fff" text-anchor="middle"><text x="782.4" y="207.8">A</text><text x="843.5" y="207.8">Detail</text><text x="814.1" y="219.2">Detail/Example</text><text x="783.1" y="235.2">Detail/Example</text><text x="843.2" y="235.2">Detail/Example</text></g>
<!-- buttons -->
<rect x="778.8" y="576.2" width="66.4" height="17.4" rx="2.5" fill="#75818d"/>
<path d="M792.3 581.4v7l6-3.5z" fill="#fff"/>
<rect x="753.7" y="603.8" width="116.6" height="17.2" rx="2.5" fill="#f4c430"/>
<rect x="763.7" y="608.3" width="9" height="8" rx="1" fill="#fff"/><rect x="765.2" y="610.6" width="6" height="3.4" fill="#f4c430"/>
</svg>
<div class="dk" style="top:89.6px">SHARE</div>
<div class="dk" style="top:127.8px">SETTINGS</div>
<div class="dk" style="top:168.8px">COMMENT</div>
<div class="dk" style="top:209.8px">LAYERS</div>
<div class="dk" style="top:247px">PRESENT</div>
<div class="dk" style="top:284.8px">HISTORY</div>
<div class="dk" style="top:326.6px">CHAT</div>
<div class="dk" style="top:609px;font-size:6.8px;letter-spacing:0;color:#29aae1;line-height:9px">Leave<br>Feedback</div>
<div class="t" style="left:806.8px;top:581.6px;font-size:8px;font-weight:bold;color:#fff">Present</div>
<div class="t" style="left:779px;top:609.5px;font-size:8.15px;color:#4a4a4a">Send to Google Slides</div>
<div class="abs" style="left:106px;top:626.7px;width:196px;height:3.8px;background:#a8a8a8"></div>
<div class="abs" style="left:104.2px;top:631.5px;width:72.9px;height:16.8px;background:#3d4752;border-radius:0 0 3px 3px"></div>
<div class="t" style="left:125.2px;top:636px;font-size:8.5px;color:#fff;transform:scaleX(.88);transform-origin:0 0">Page 1</div>
<svg class="abs" style="left:0;top:631px" width="892" height="19" viewBox="0 631 892 19">
<g fill="#fff">
<rect x="67.3" y="635.6" width="2.2" height="1.8"/><rect x="70.8" y="635.6" width="9" height="1.8"/>
<rect x="67.3" y="639.6" width="2.2" height="1.8"/><rect x="70.8" y="639.6" width="9" height="1.8"/>
<rect x="67.3" y="643.6" width="2.2" height="1.8"/><rect x="70.8" y="643.6" width="9" height="1.8"/>
<rect x="88.3" y="635.2" width="4.6" height="4.6"/><rect x="94" y="635.2" width="4.6" height="4.6"/><rect x="88.3" y="640.9" width="4.6" height="4.6"/><rect x="94" y="640.9" width="4.6" height="4.6"/>
</g>
<path d="M163.2 638.4h5.6l-2.8 3.8z" fill="#aab2ba"/>
<circle cx="189" cy="640.5" r="4.7" fill="none" stroke="#fff" stroke-width="1.3"/><path d="M189 637.8v5.4M186.3 640.5h5.4" stroke="#fff" stroke-width="1.3"/>
<path d="M721.6 635v12" stroke="#4a5560" stroke-width="1"/>
<circle cx="734.6" cy="641.2" r="4.8" fill="none" stroke="#fff" stroke-width="1"/><path d="M734.6 638l2.4 5.8-2.4-1.3-2.4 1.3z" fill="#fff"/>
<path d="M746.5 641.2h8.3" stroke="#fff" stroke-width="1.1"/>
<path d="M761 641.2h75" stroke="#3d4752" stroke-width="2.6" stroke-linecap="round"/>
<circle cx="798" cy="641.2" r="4.5" fill="#29aae1"/>
<path d="M841.8 641.2h9M846.3 636.7v9" stroke="#fff" stroke-width="1.1"/>
<path d="M876.6 639.4h5.6l-2.8 3.8z" fill="#fff"/>
</svg>
<div class="t" style="left:855.2px;top:637.2px;font-size:7.8px;color:#fff">100%</div>
</body></html>
